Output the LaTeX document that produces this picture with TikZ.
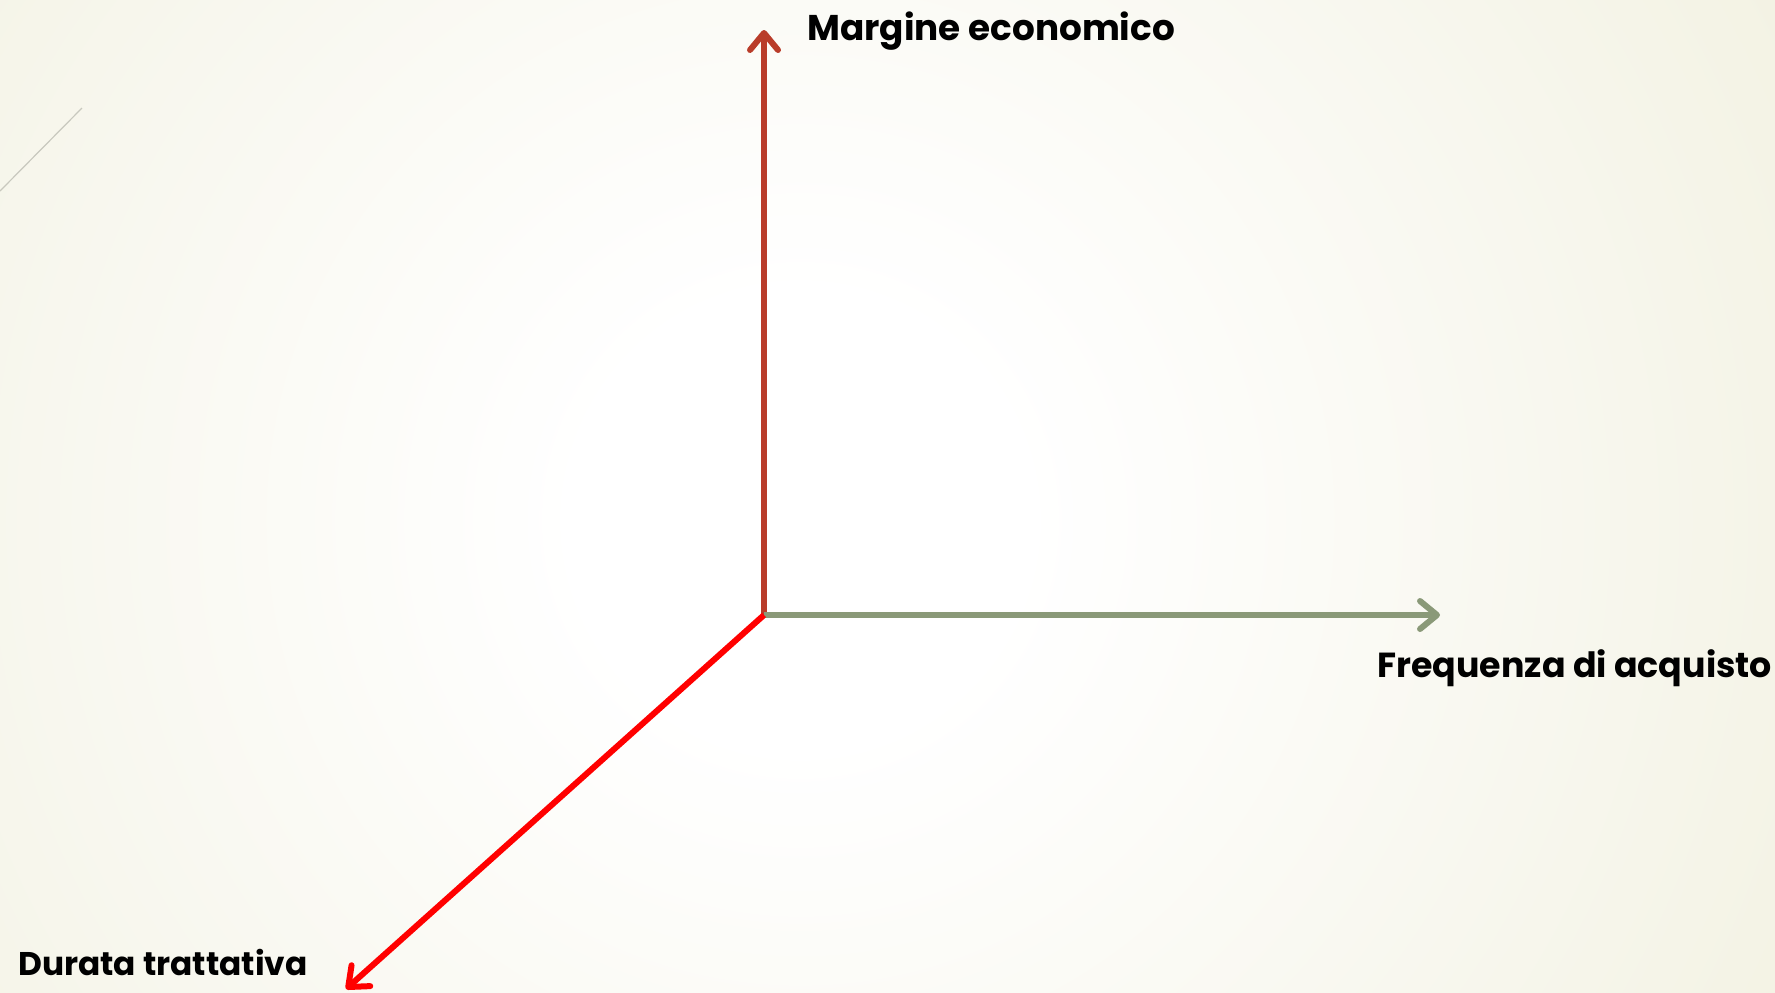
\documentclass[tikz,border=0pt]{standalone}
\usepackage{fontspec}
\setmainfont{Poppins}
\usetikzlibrary{
    arrows.meta
}

\definecolor{axisbrown}{RGB}{185,60,42}
\definecolor{axisgreen}{RGB}{138,153,120}
\definecolor{axisred}{RGB}{255,0,0}
\definecolor{slidebeige}{RGB}{231,229,200}
\definecolor{decogrey}{RGB}{200,200,190}

\pgfdeclareradialshading{slidebg}{\pgfpoint{0bp}{0bp}}{%
    color(0bp)=(white); color(4bp)=(white);
    color(36bp)=(slidebeige); color(50bp)=(slidebeige)}

\begin{document}
\begin{tikzpicture}[
    x=0.5pt,
    y=-0.5pt,
    axis/.style={
        line width=3pt,
        -{Straight Barb[length=8.5pt, width=14pt, round]}
    },
    axislabel/.style={
        anchor=base west,
        inner sep=0pt,
        font=\bfseries\fontsize{17.9}{22}\selectfont
    }
]

% slide background
\useasboundingbox (0,0) rectangle (1775,992);
\begin{scope}
    \clip (0,0) rectangle (1775,992);
    \fill[slidebeige] (0,0) rectangle (1775,992);
    \shade[shading=slidebg] (800,520) circle (1400);
\end{scope}
\draw[decogrey, line width=0.6pt] (0,191) -- (82,108);

% axes
\coordinate (origin) at (764,615);
\coordinate (ytip) at (764,30);
\coordinate (xtip) at (1440,615);
\coordinate (ztip) at (346,989);

\draw[axis, axisbrown] (origin) -- (ytip);
\draw[axis, axisgreen] (origin) -- (xtip);
\draw[axis, axisred] (origin) -- (ztip);

% labels
\node[axislabel] (margine) at (807,40) {Margine economico};
\node[axislabel, font=\bfseries\fontsize{17.4}{21}\selectfont]
    (frequenza) at (1377,677) {Frequenza di acquisto};
\node[axislabel, font=\bfseries\fontsize{16.4}{20}\selectfont]
    (durata) at (18,975) {Durata trattativa};

\end{tikzpicture}
\end{document}
